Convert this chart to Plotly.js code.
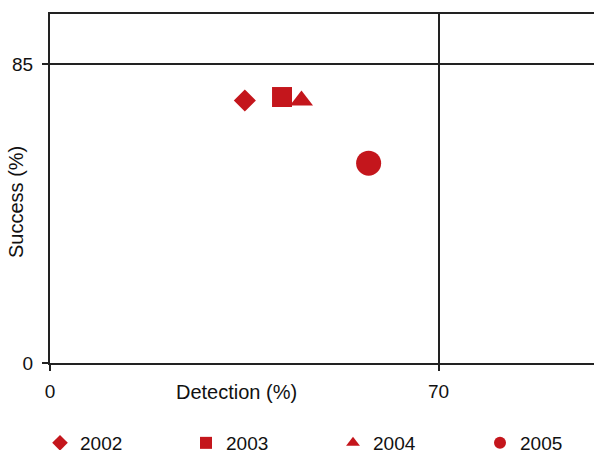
<!DOCTYPE html>
<html>
<head>
<meta charset="utf-8">
<script src="https://cdn.plot.ly/plotly-3.0.1.min.js"></script>
<style>html,body{margin:0;padding:0;background:#fff}#chart{width:594px;height:450px}</style>
</head>
<body>
<div id="chart"></div>
<script>
const years = ['2002', '2003', '2004', '2005'];
const detection = [35.1, 41.8, 45.3, 57.4];
const success = [74.6, 75.6, 74.6, 56.8];
const xTicks = [0, 70];
const yTicks = [0, 85];

const symbols = ['diamond', 'square', 'triangle-up', 'circle'];
const sizes = [17, 20, 20, 25];
const legendLeft = [40, 186, 333, 480];
const red = '#C4161C';
const ink = '#222222';
const font = 'Liberation Sans, Arial, sans-serif';

const legendIds = ['legend', 'legend2', 'legend3', 'legend4'];

const traces = years.map((yr, i) => ({
  type: 'scatter',
  mode: 'markers',
  name: yr,
  legend: legendIds[i],
  x: [detection[i]],
  y: [success[i]],
  marker: {symbol: symbols[i], size: sizes[i], color: red, line: {width: 0}},
  hoverinfo: 'x+y+name'
}));

const layout = {
  width: 594, height: 450,
  margin: {l: 50, r: 0, t: 14, b: 87},
  paper_bgcolor: '#fff', plot_bgcolor: '#fff',
  font: {family: font, size: 19, color: '#111'},
  showlegend: true,
  xaxis: {
    range: [0, 98], tickvals: xTicks, ticktext: xTicks.map(String),
    showgrid: true, gridcolor: ink, gridwidth: 2, zeroline: false,
    showline: true, linecolor: ink, linewidth: 2, mirror: true,
    ticks: 'outside', ticklen: 6, tickwidth: 2, tickcolor: ink,
    ticklabelstandoff: 4, tickfont: {size: 19, family: font, color: '#111'}
  },
  yaxis: {
    range: [0, 99.2], tickvals: yTicks, ticktext: yTicks.map(String),
    showgrid: true, gridcolor: ink, gridwidth: 2, zeroline: false,
    showline: true, linecolor: ink, linewidth: 2, mirror: false,
    ticks: 'outside', ticklen: 6, tickwidth: 2, tickcolor: ink,
    ticklabelstandoff: 5, tickfont: {size: 19, family: font, color: '#111'}
  },
  annotations: [
    {text: 'Detection (%)', xref: 'paper', yref: 'paper',
     x: (236 - 50) / 544, y: (363 - 392) / 349, xanchor: 'center', yanchor: 'middle',
     showarrow: false, font: {size: 20, family: font, color: '#111'}},
    {text: 'Success (%)', xref: 'paper', yref: 'paper', textangle: -90,
     x: (16 - 50) / 544, y: (363 - 202) / 349, xanchor: 'center', yanchor: 'middle',
     showarrow: false, font: {size: 20, family: font, color: '#111'}}
  ]
};

legendIds.forEach((id, i) => {
  layout[id] = {
    orientation: 'h', xref: 'container', yref: 'container',
    x: legendLeft[i] / 594, xanchor: 'left', y: 1 - 443 / 450, yanchor: 'middle',
    itemsizing: 'constant',
    font: {size: 19, family: font, color: '#111'}, bgcolor: 'rgba(0,0,0,0)'
  };
});

Plotly.newPlot('chart', traces, layout, {displayModeBar: false, staticPlot: true});
</script>
</body>
</html>
